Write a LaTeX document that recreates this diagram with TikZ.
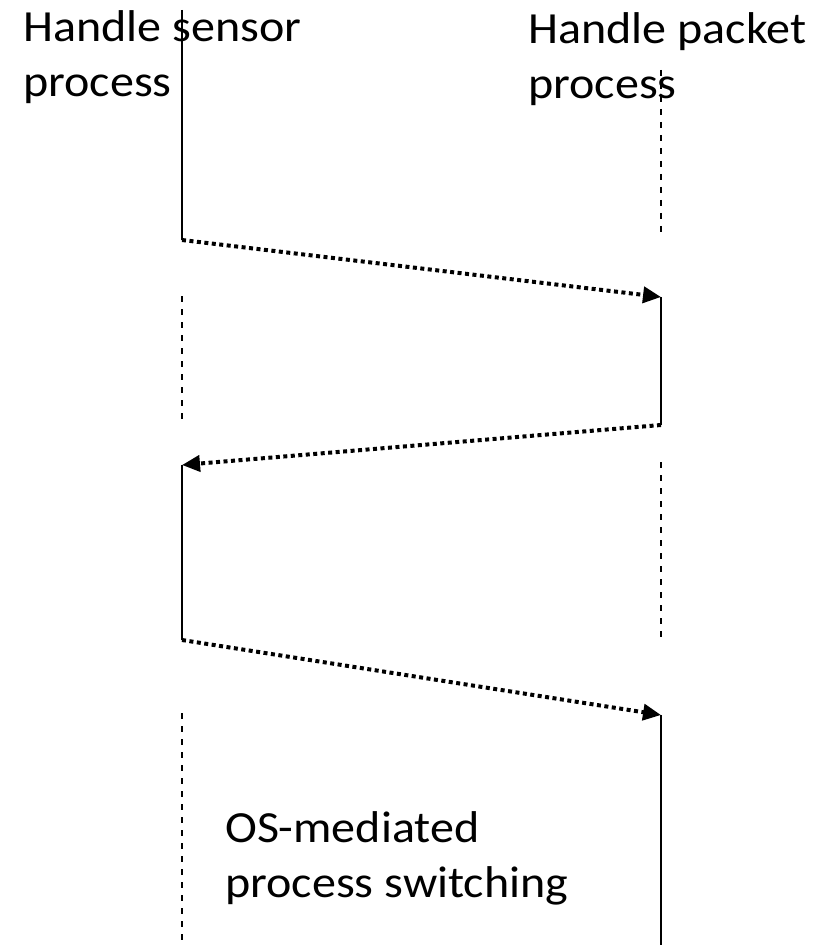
\documentclass[tikz,border=0pt]{standalone}
\usepackage{fontspec}
\setmainfont{Carlito}[FakeStretch=1.08]
\usetikzlibrary{arrows.meta}
\begin{document}
\begin{tikzpicture}[x=1pt,y=-1pt,
  active/.style={line width=1.8pt},
  idle/.style={line width=1.8pt,dash pattern=on 6pt off 7pt},
  switch/.style={line width=4pt,dash pattern=on 4pt off 3.5pt,
    -{Triangle[length=18pt,width=16pt]}},
  label/.style={anchor=base west,inner sep=0pt,align=left,
    font=\fontsize{44.5}{55}\selectfont}]
\useasboundingbox (0,0) rectangle (820,949);

% lifeline of the sensor process (x = 182)
\coordinate (s0) at (182,10);
\coordinate (s1) at (182,240);
\coordinate (s2) at (182,296);
\coordinate (s3) at (182,424);
\coordinate (s4) at (182,465);
\coordinate (s5) at (182,640);
\coordinate (s6) at (182,713);
\coordinate (s7) at (182,945);

% lifeline of the packet process (x = 661)
\coordinate (p0) at (661,70);
\coordinate (p1) at (661,237);
\coordinate (p2) at (661,297);
\coordinate (p3) at (661,425);
\coordinate (p4) at (661,462);
\coordinate (p5) at (661,640);
\coordinate (p6) at (661,715);
\coordinate (p7) at (661,945);

% running (solid) and waiting (dashed) segments
\draw[active] (s0) -- (s1);
\draw[idle]   (s2) -- (s3);
\draw[active] (s4) -- (s5);
\draw[idle]   (s6) -- (s7);

\draw[idle]   (p0) -- (p1);
\draw[active] (p2) -- (p3);
\draw[idle]   (p4) -- (p5);
\draw[active] (p6) -- (p7);

% context switches
\draw[switch] (s1) -- (p2);
\draw[switch] (p3) -- (s4);
\draw[switch] (s5) -- (p6);

% labels (anchored at the baseline of their last line)
\node[label] (lsensor) at (23,97) {Handle sensor\\process};
\node[label] (lpacket) at (528,99) {Handle packet\\process};
\node[label] (los) at (225,897) {OS-mediated\\process switching};
\end{tikzpicture}
\end{document}
